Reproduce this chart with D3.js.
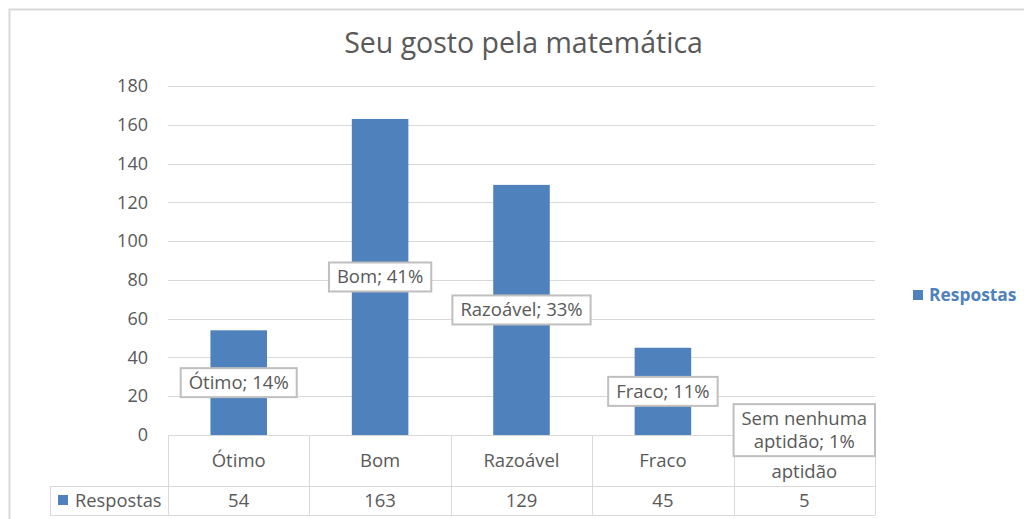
<!DOCTYPE html>
<html><head><meta charset="utf-8">
<script src="https://cdn.jsdelivr.net/npm/d3@7"></script>
<style>
html,body{margin:0;padding:0;background:#fff;}
svg{display:block;}
text{font-family:"Open Sans", Lato, sans-serif;}
</style></head>
<body>
<svg id="c" width="1024" height="519"></svg>
<script>
const title = "Seu gosto pela matemática";
const categories = ["Ótimo", "Bom", "Razoável", "Fraco", "Sem nenhuma aptidão"];
const categoryLines = [["Ótimo"], ["Bom"], ["Razoável"], ["Fraco"], ["Sem nenhuma", "aptidão"]];
const seriesName = "Respostas";
const values = [54, 163, 129, 45, 5];
const yTicks = [0, 20, 40, 60, 80, 100, 120, 140, 160, 180];

const blue = "#4f81bd", grid = "#d9d9d9", txt = "#595959";
const FONT = "'Open Sans', Lato, sans-serif";
const svg = d3.select("#c");

// chart border
svg.append("rect").attr("x", 9.5).attr("y", 9.5).attr("width", 1040).attr("height", 540)
  .attr("fill", "#fff").attr("stroke", "#d9d9d9").attr("stroke-width", 2);

const pL = 168, pR = 875, pT = 86, pB = 435;
const col = d3.scaleBand().domain(categories).range([pL, pR]).padding(0);
const xb = d3.scaleBand().domain(categories).range([pL, pR]).paddingInner(0.6).paddingOuter(0.3);
const y = d3.scaleLinear().domain([0, 180]).range([pB, pT]);

// title
svg.append("text").attr("x", 523.5).attr("y", 53).attr("text-anchor", "middle")
  .attr("font-size", 28.5).attr("fill", txt).text(title);

// gridlines
svg.append("g").selectAll("line").data(yTicks.filter(d => d > 0)).join("line")
  .attr("x1", pL).attr("x2", pR)
  .attr("y1", d => Math.round(y(d)) + 0.5).attr("y2", d => Math.round(y(d)) + 0.5)
  .attr("stroke", grid).attr("stroke-width", 1);

// y axis labels via d3 axis
const yAxis = svg.append("g").attr("transform", `translate(${pL - 20},0)`)
  .call(d3.axisLeft(y).tickValues(yTicks).tickSize(0).tickPadding(0));
yAxis.select(".domain").remove();
yAxis.selectAll("text").attr("font-size", 18).attr("fill", txt).attr("font-family", FONT);

// bars
svg.append("g").selectAll("rect").data(values).join("rect")
  .attr("x", (d, i) => xb(categories[i])).attr("width", xb.bandwidth())
  .attr("y", d => y(d)).attr("height", d => y(0) - y(d))
  .attr("fill", blue);

// data table
const tbl = svg.append("g").attr("stroke", grid).attr("stroke-width", 1).attr("fill", "none");
const rowMid = 486, rowBot = 515, keyLeft = 50;
tbl.append("line").attr("x1", pL).attr("x2", pR).attr("y1", pB + 0.5).attr("y2", pB + 0.5);
tbl.append("line").attr("x1", keyLeft).attr("x2", pR).attr("y1", rowMid + 0.5).attr("y2", rowMid + 0.5);
tbl.append("line").attr("x1", keyLeft).attr("x2", pR).attr("y1", rowBot + 0.5).attr("y2", rowBot + 0.5);
tbl.append("line").attr("x1", keyLeft + 0.5).attr("x2", keyLeft + 0.5).attr("y1", rowMid).attr("y2", rowBot);
const bounds = categories.map(c => col(c)).concat([pR]);
tbl.selectAll("line.v").data(bounds).join("line").attr("class", "v")
  .attr("x1", d => Math.round(d) + 0.5).attr("x2", d => Math.round(d) + 0.5)
  .attr("y1", pB).attr("y2", rowBot);

// category headers (the first line of a wrapped header is hidden under its data label in the reference)
categories.forEach((c, i) => {
  const lines = categoryLines[i];
  const cx = col(c) + col.bandwidth() / 2;
  const cy = (pB + rowMid) / 2;
  const lh = 23;
  lines.forEach((l, j) => {
    if (lines.length > 1 && j === 0) return;
    svg.append("text").attr("x", cx).attr("y", cy + (j - (lines.length - 1) / 2) * lh)
      .attr("dy", "0.35em").attr("text-anchor", "middle").attr("font-size", 18.5)
      .attr("fill", txt).text(l);
  });
  svg.append("text").attr("x", cx).attr("y", (rowMid + rowBot) / 2).attr("dy", "0.35em")
    .attr("text-anchor", "middle").attr("font-size", 18.5).attr("fill", txt).text(values[i]);
});
// legend key in table
svg.append("rect").attr("x", 58).attr("y", 495).attr("width", 10).attr("height", 10).attr("fill", blue);
svg.append("text").attr("x", 75).attr("y", (rowMid + rowBot) / 2).attr("dy", "0.35em")
  .attr("font-size", 18.3).attr("fill", txt).text(seriesName);

// data labels (category; percent), centred on bars
const total = d3.sum(values);
const labelLines = [["Ótimo; " + Math.round(values[0] / total * 100) + "%"],
  ["Bom; " + Math.round(values[1] / total * 100) + "%"],
  ["Razoável; " + Math.round(values[2] / total * 100) + "%"],
  ["Fraco; " + Math.round(values[3] / total * 100) + "%"],
  ["Sem nenhuma", "aptidão; " + Math.round(values[4] / total * 100) + "%"]];
values.forEach((v, i) => {
  const cx = xb(categories[i]) + xb.bandwidth() / 2;
  const cy = y(v / 2);
  const g = svg.append("g");
  const lines = labelLines[i];
  const lh = 23;
  const rect = g.append("rect").attr("fill", "#fff").attr("stroke", "#bfbfbf").attr("stroke-width", 2);
  let maxW = 0;
  lines.forEach((l, j) => {
    const t = g.append("text").attr("x", cx).attr("y", cy + (j - (lines.length - 1) / 2) * lh)
      .attr("dy", "0.35em").attr("text-anchor", "middle").attr("font-size", 18.5).attr("fill", txt).text(l);
    maxW = Math.max(maxW, t.node().getComputedTextLength());
  });
  const w = lines.length > 1 ? col.bandwidth() : maxW + 16;
  const h = lines.length * lh + 6;
  rect.attr("x", cx - w / 2).attr("y", cy - h / 2).attr("width", w).attr("height", h);
});

// right legend
svg.append("rect").attr("x", 913).attr("y", 290).attr("width", 10).attr("height", 10).attr("fill", blue);
svg.append("text").attr("x", 929).attr("y", 295).attr("dy", "0.35em").attr("font-size", 17.4)
  .attr("font-weight", "bold").attr("fill", blue).text(seriesName);
</script>
</body></html>
